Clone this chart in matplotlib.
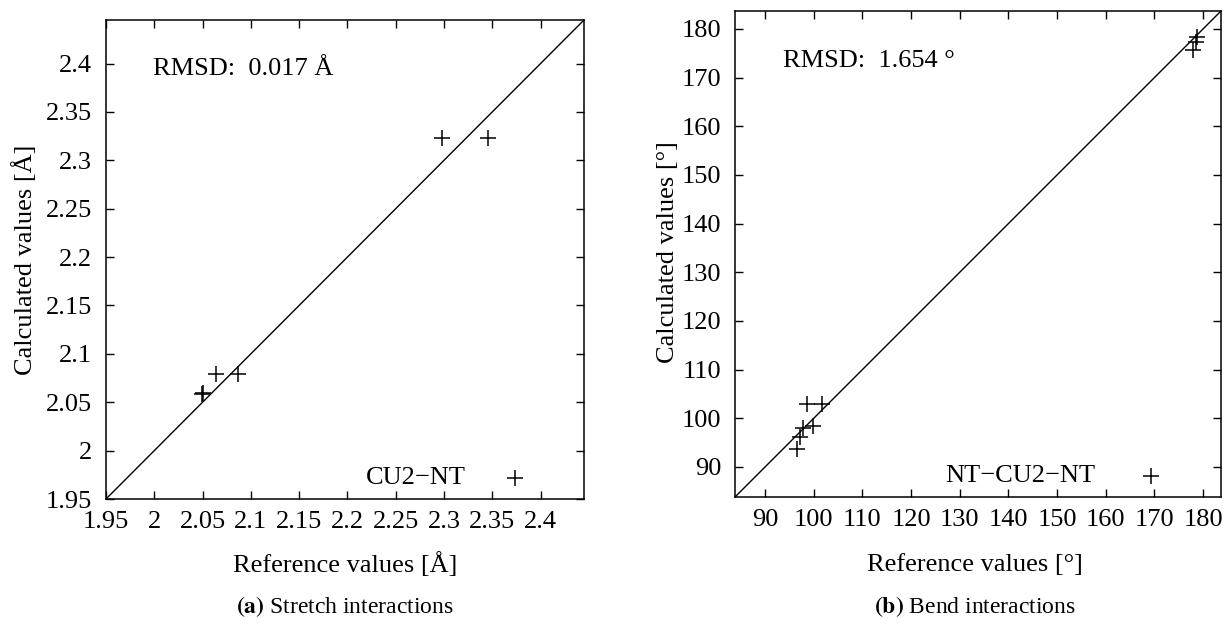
import matplotlib
matplotlib.use("Agg")
import matplotlib.pyplot as plt

plt.rcParams['font.family'] = ['Liberation Serif', 'DejaVu Serif']
plt.rcParams['mathtext.fontset'] = 'stix'

# Stretch interactions (bond lengths, Angstrom)
stretch_ref = [2.049, 2.050, 2.064, 2.087, 2.298, 2.346]
stretch_calc = [2.059, 2.060, 2.079, 2.079, 2.323, 2.323]
stretch_ticks = [1.95, 2.0, 2.05, 2.1, 2.15, 2.2, 2.25, 2.3, 2.35, 2.4]
stretch_ticklabels = ['1.95', '2', '2.05', '2.1', '2.15', '2.2', '2.25', '2.3', '2.35', '2.4']
stretch_range = [1.95, 2.445]

# Bend interactions (angles, degrees)
bend_ref = [96.5, 97.2, 97.8, 99.9, 98.6, 101.6, 178.0, 178.6, 178.7]
bend_calc = [93.6, 96.2, 97.9, 98.3, 102.9, 102.9, 175.7, 177.3, 178.3]
bend_ticks = [90, 100, 110, 120, 130, 140, 150, 160, 170, 180]
bend_range = [83.8, 183.7]

W, H = 1229, 625
fig = plt.figure(figsize=(W / 100, H / 100), dpi=100)

FS = 19
CAP_FS = 17


def px_axes(left, top, right, bottom):
    return fig.add_axes([left / W, 1 - bottom / H, (right - left) / W, (bottom - top) / H])


def style(ax):
    for s in ax.spines.values():
        s.set_linewidth(1.1)
    ax.tick_params(direction='in', length=6, width=1, top=True, right=True,
                   labelsize=FS)
    ax.tick_params(axis='x', pad=9)
    ax.tick_params(axis='y', pad=10)


def panel(ax, xr, yr, rng, ticks, ticklabels, label_unit, rmsd, key, key_x):
    ax.plot(rng, rng, color='black', lw=1.0)
    ax.plot(xr, yr, linestyle='none', marker='+', markersize=11,
            markeredgewidth=1.1, color='black')
    ax.set_xlim(rng)
    ax.set_ylim(rng)
    ax.set_xticks(ticks)
    ax.set_yticks(ticks)
    ax.set_xticklabels(ticklabels)
    ax.set_yticklabels(ticklabels)
    style(ax)
    ax.text(0.098, 0.897, rmsd, transform=ax.transAxes, fontsize=FS,
            ha='left', va='center')
    ax.text(key_x, 0.044, key, transform=ax.transAxes, fontsize=FS,
            ha='right', va='center')
    ax.plot([0.855], [0.044], transform=ax.transAxes, linestyle='none',
            marker='+', markersize=11, markeredgewidth=1.1, color='black',
            clip_on=False)
    ax.set_xlabel('Reference values [' + label_unit + ']', fontsize=FS, va='center')
    ax.set_ylabel('Calculated values [' + label_unit + ']', fontsize=FS, va='center')


ax1 = px_axes(106, 20, 584, 499)
panel(ax1, stretch_ref, stretch_calc, stretch_range, stretch_ticks,
      stretch_ticklabels, 'Å', 'RMSD:  0.017 Å', 'CU2−NT', 0.753)
ax1.xaxis.set_label_coords((345 - 106) / 478, (499 - 565) / 479)
ax1.yaxis.set_label_coords((25 - 106) / 478, (499 - 260) / 479)

ax2 = px_axes(735, 11, 1221, 497)
panel(ax2, bend_ref, bend_calc, bend_range, bend_ticks,
      [str(t) for t in bend_ticks], '°', 'RMSD:  1.654 °', 'NT−CU2−NT', 0.741)
ax2.xaxis.set_label_coords((975 - 735) / 486, (497 - 565) / 486)
ax2.yaxis.set_label_coords((668 - 735) / 486, (497 - 252) / 486)

# Sub-figure captions
fig.text(345 / W, 1 - 607 / H, r'$\mathbf{(a)}$ Stretch interactions',
         ha='center', va='center', fontsize=CAP_FS)
fig.text(975 / W, 1 - 607 / H, r'$\mathbf{(b)}$ Bend interactions',
         ha='center', va='center', fontsize=CAP_FS)

fig.savefig('out.png', dpi=100)
